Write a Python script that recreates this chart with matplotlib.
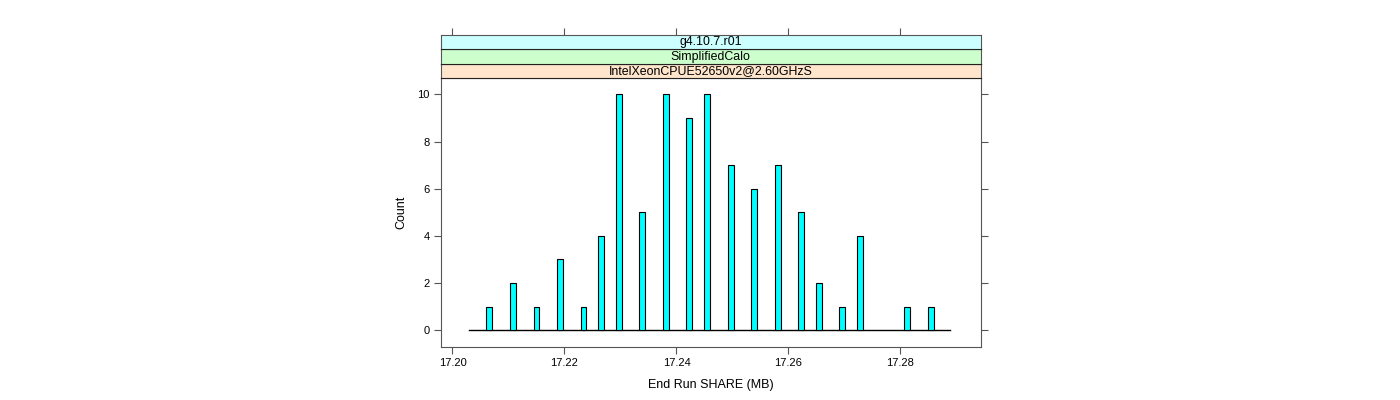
import matplotlib
matplotlib.use("Agg")
import matplotlib.pyplot as plt

plt.rcParams['font.family'] = ['Liberation Sans', 'DejaVu Sans']

# Data
share_mb = [17.2065, 17.2108, 17.2150, 17.2192, 17.2234, 17.2265, 17.2297,
            17.2339, 17.2381, 17.2423, 17.2454, 17.2497, 17.2539, 17.2581,
            17.2623, 17.2654, 17.2696, 17.2728, 17.2812, 17.2854]
counts = [1, 2, 1, 3, 1, 4, 10, 5, 10, 9, 10, 7, 6, 7, 5, 2, 1, 4, 1, 1]
baseline_range = [17.2029, 17.2889]
x_ticks = [17.20, 17.22, 17.24, 17.26, 17.28]
x_tick_labels = ["17.20", "17.22", "17.24", "17.26", "17.28"]
y_ticks = [0, 2, 4, 6, 8, 10]
strip_labels = ["IntelXeonCPUE52650v2@2.60GHzS", "SimplifiedCalo", "g4.10.7.r01"]
strip_colors = ["#ffe5cc", "#ccffcc", "#ccffff"]

W, H = 1400, 400
fig = plt.figure(figsize=(14, 4), dpi=100)

left_px, right_px = 440.5, 980.5
bottom_px, top_px = 346.7, 78.0
strip_h = 14.5
frame_col = "#555555"
lw = 0.8

ax = fig.add_axes([left_px / W, (H - bottom_px) / H,
                   (right_px - left_px) / W, (bottom_px - top_px) / H])
ax.bar(share_mb, counts, width=0.00105, color="#00ffff",
       edgecolor="black", linewidth=0.8, zorder=3)
ax.plot(baseline_range, [0, 0], color="black", linewidth=1.0, zorder=2)
ax.set_xlim(17.19786, 17.29429)
ax.set_ylim(-0.7, 10.7)
ax.set_xticks(x_ticks)
ax.set_xticklabels(x_tick_labels)
ax.set_yticks(y_ticks)
ax.tick_params(axis='both', direction='out', length=5, width=0.8,
               color=frame_col, labelsize=8, pad=3)
ax.tick_params(axis='y', right=True, labelright=False)
for s in ax.spines.values():
    s.set_color(frame_col)
    s.set_linewidth(lw)
ax.set_xlabel("End Run SHARE (MB)", fontsize=9, labelpad=8)
ax.set_ylabel("Count", fontsize=9, labelpad=7)

# strips
for i, (lab, col) in enumerate(zip(strip_labels, strip_colors)):
    sax = fig.add_axes([left_px / W, (H - top_px + i * strip_h) / H,
                        (right_px - left_px) / W, strip_h / H], sharex=ax)
    sax.set_facecolor(col)
    sax.set_ylim(0, 1)
    sax.set_yticks([])
    sax.text(0.5, 0.45, lab, transform=sax.transAxes, ha='center',
             va='center', fontsize=8.9)
    for s in sax.spines.values():
        s.set_color("#222222")
        s.set_linewidth(lw)
    sax.spines['left'].set_color(frame_col)
    sax.spines['right'].set_color(frame_col)
    if i == len(strip_labels) - 1:
        sax.spines['top'].set_color(frame_col)
        sax.tick_params(axis='x', top=True, bottom=False, labeltop=False,
                        labelbottom=False, direction='out', length=5,
                        width=0.8, color=frame_col)
    else:
        sax.tick_params(axis='x', top=False, bottom=False, labeltop=False,
                        labelbottom=False)

fig.savefig("out.png", dpi=100)
